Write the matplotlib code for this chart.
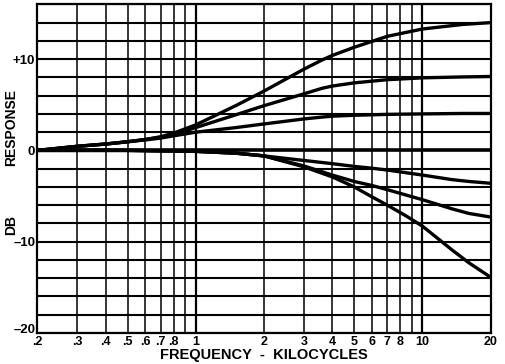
import matplotlib
matplotlib.use("Agg")
import matplotlib.pyplot as plt
import matplotlib.transforms as mtransforms
from matplotlib.ticker import FixedLocator, NullLocator

# ---- data ----
freq_rise = [0.2, 0.3, 0.4, 0.5, 0.6, 0.7, 0.8, 1.0, 1.5, 2.0, 3.0, 3.6, 4.0, 5.0, 7.0, 10.0, 15.0, 20.0]
rise_high = [0.0, 0.45, 0.7, 0.95, 1.2, 1.5, 1.9, 2.8, 4.9, 6.5, 8.9, 9.9, 10.4, 11.3, 12.5, 13.3, 13.8, 14.0]
rise_mid  = [0.0, 0.45, 0.7, 0.95, 1.2, 1.45, 1.75, 2.5, 3.9, 4.9, 6.2, 6.8, 7.05, 7.4, 7.75, 7.95, 8.05, 8.1]
rise_low  = [0.0, 0.45, 0.7, 0.95, 1.15, 1.35, 1.6, 2.0, 2.5, 2.9, 3.45, 3.65, 3.75, 3.85, 3.95, 4.0, 4.05, 4.05]

freq_fall = [0.2, 0.5, 1.0, 1.5, 2.0, 3.0, 4.0, 5.0, 6.0, 7.0, 8.5, 10.0, 13.5, 16.0, 20.0]
fall_small = [0.0, 0.0, -0.1, -0.3, -0.6, -1.1, -1.45, -1.75, -1.95, -2.15, -2.45, -2.7, -3.2, -3.4, -3.6]
fall_mid   = [0.0, 0.0, -0.1, -0.3, -0.6, -1.7, -2.7, -3.4, -3.85, -4.3, -4.9, -5.4, -6.4, -6.9, -7.3]
fall_large = [0.0, 0.0, -0.1, -0.3, -0.6, -1.8, -2.9, -4.0, -5.1, -6.0, -7.2, -8.3, -10.9, -12.3, -13.9]

x_grid = [0.2, 0.3, 0.4, 0.5, 0.6, 0.7, 0.8, 0.9, 1, 2, 3, 4, 5, 6, 7, 8, 9, 10, 20]
x_tick_vals = [0.2, 0.3, 0.4, 0.5, 0.6, 0.7, 0.8, 1, 2, 3, 4, 5, 6, 7, 8, 10, 20]
x_tick_labels = [".2", ".3", ".4", ".5", ".6", ".7", ".8", "1", "2", "3", "4", "5", "6", "7", "8", "10", "20"]
y_tick_vals = [-20, -10, 0, 10]
y_tick_labels = ["\u201320", "\u201310", "0", "+10"]

FONT = ["Liberation Sans", "DejaVu Sans"]

fig = plt.figure(figsize=(5.05, 3.64), dpi=100)
ax = fig.add_axes([0.0739, 0.0852, 0.8978, 0.9028])
ax.set_xscale("log")
ax.set_xlim(0.2, 20)
ax.set_ylim(-20, 16)

# grid
for xv in x_grid:
    lw = 1.6 if xv in (1, 10) else 1.1
    ax.axvline(xv, color="black", lw=lw, zorder=1)
for yv in range(-20, 17, 2):
    lw = 2.6 if yv == 0 else 1.5
    ax.axhline(yv, color="black", lw=lw, zorder=1)

for ys in (rise_high, rise_mid, rise_low):
    ax.plot(freq_rise, ys, color="black", lw=2.4, solid_capstyle="butt",
            solid_joinstyle="round", zorder=3)
for ys in (fall_small, fall_mid, fall_large):
    ax.plot(freq_fall, ys, color="black", lw=2.4, solid_capstyle="butt",
            solid_joinstyle="round", zorder=3)

for sp in ax.spines.values():
    sp.set_linewidth(1.6)

ax.xaxis.set_major_locator(FixedLocator(x_tick_vals))
ax.xaxis.set_minor_locator(NullLocator())
ax.set_xticklabels(x_tick_labels, fontweight="bold", fontsize=9, family=FONT)
ax.set_yticks(y_tick_vals)
ax.set_yticklabels(y_tick_labels, fontweight="bold", fontsize=9.5, family=FONT)
ax.tick_params(axis="x", length=0, pad=2)
ax.tick_params(axis="y", length=0, pad=1.5)

# lift the bottom y label so it sits above the first x label, as in the reference
lbl = ax.get_yticklabels()[0]
lbl.set_transform(lbl.get_transform() + mtransforms.ScaledTranslation(0, 3 / 72, fig.dpi_scale_trans))

ax.set_xlabel("FREQUENCY  -  KILOCYCLES", fontweight="bold", fontsize=10.5,
              family=FONT, labelpad=0)
fig.text(0.022, 0.651, "RESPONSE", rotation=90, fontweight="bold", fontsize=10,
         family=FONT, ha="center", va="center")
fig.text(0.022, 0.382, "DB", rotation=90, fontweight="bold", fontsize=10,
         family=FONT, ha="center", va="center")

fig.savefig("out.png", dpi=100)
